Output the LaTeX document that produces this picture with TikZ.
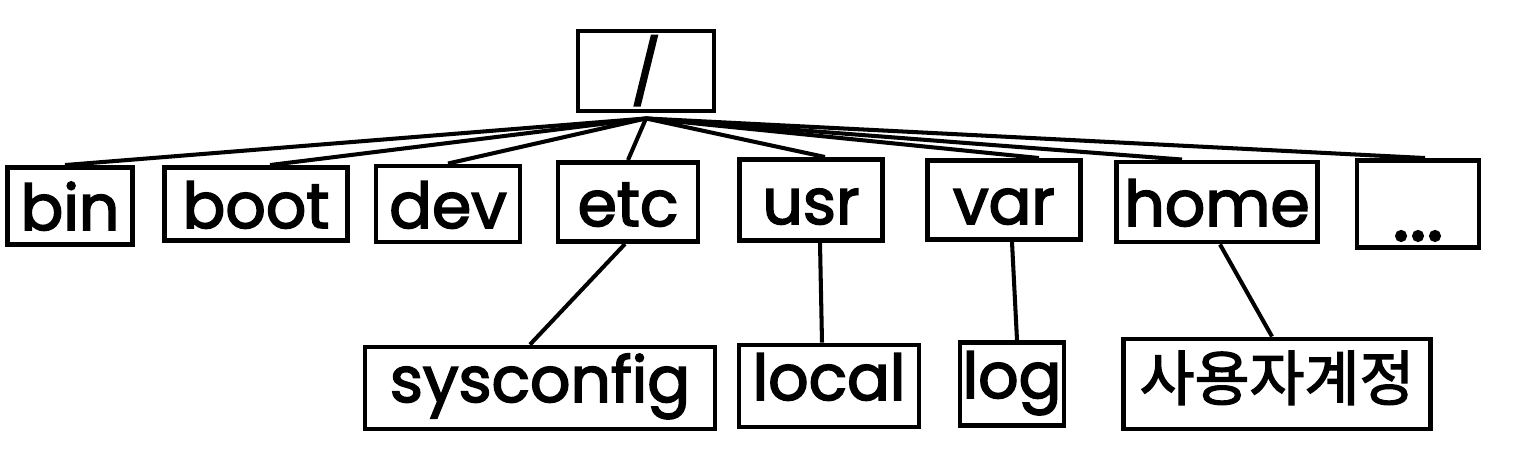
\documentclass[tikz,border=0pt]{standalone}
\usepackage{fontspec}
\setmainfont{Poppins}[FakeBold=2.6]
\newfontfamily\kofont{Noto Sans CJK KR}[FakeBold=2.2]
\begin{document}
\begin{tikzpicture}
\tikzset{
  dirbox/.style={draw, line width=2.8pt, inner sep=0pt, text height=1.1cm, text depth=0.14cm,
    font=\fontsize{36}{40}\selectfont},
  lowbox/.style={dirbox, text height=0.9cm, text depth=0.34cm},
  link/.style={line width=2.3pt}
}
\useasboundingbox (0,0) rectangle (30.54,9.44);

\node[dirbox, minimum width=2.72cm, minimum height=1.6cm] (root) at (12.92,8.02) {/};

\node[dirbox, minimum width=2.5cm, minimum height=1.54cm] (bin) at (1.40,5.32) {bin};
\node[dirbox, minimum width=3.66cm, minimum height=1.46cm] (boot) at (5.12,5.36) {boot};
\node[dirbox, minimum width=2.88cm, minimum height=1.52cm] (dev) at (8.96,5.36) {dev};
\node[dirbox, minimum width=2.8cm, minimum height=1.58cm] (etc) at (12.56,5.40) {etc};
\node[dirbox, minimum width=2.86cm, minimum height=1.62cm] (usr) at (16.22,5.44) {usr};
\node[dirbox, minimum width=3.06cm, minimum height=1.58cm] (var) at (20.08,5.44) {var};
\node[dirbox, minimum width=4.02cm, minimum height=1.6cm] (home) at (24.34,5.40) {home};
\node[dirbox, minimum width=2.44cm, minimum height=1.7cm, text height=1.6cm,
  font=\fontsize{46}{50}\selectfont] (more) at (28.36,5.36) {...};

\node[lowbox, minimum width=7.0cm, minimum height=1.64cm] (sysconfig) at (10.80,1.68) {sysconfig};
\node[lowbox, minimum width=3.6cm, minimum height=1.64cm] (local) at (16.58,1.72) {local};
\node[lowbox, minimum width=2.08cm, minimum height=1.66cm] (log) at (20.24,1.76) {log};
\node[lowbox, minimum width=6.14cm, minimum height=1.8cm, text height=0.95cm, text depth=0.3cm,
  font=\kofont\fontsize{34}{36}\selectfont] (account) at (25.54,1.76) {사용자계정};

\coordinate (hub) at ([yshift=-0.1cm]root.south);
\draw[link] (hub) -- ([xshift=-0.1cm]bin.north);
\draw[link] (hub) -- ([xshift=0.28cm]boot.north);
\draw[link] (hub) -- (dev.north);
\draw[link] (hub) -- (etc.north);
\draw[link] (hub) -- ([xshift=0.28cm]usr.north);
\draw[link] (hub) -- ([xshift=0.7cm]var.north);
\draw[link] (hub) -- ([xshift=-0.7cm]home.north);
\draw[link] (hub) -- ([xshift=0.14cm]more.north);

\draw[link] ([xshift=-0.06cm]etc.south) -- ([xshift=-0.2cm]sysconfig.north);
\draw[link] ([xshift=0.18cm]usr.south) -- ([xshift=-0.14cm]local.north);
\draw[link] ([xshift=0.16cm]var.south) -- ([xshift=0.1cm]log.north);
\draw[link] ([xshift=0.06cm]home.south) -- ([xshift=-0.1cm]account.north);
\end{tikzpicture}
\end{document}
